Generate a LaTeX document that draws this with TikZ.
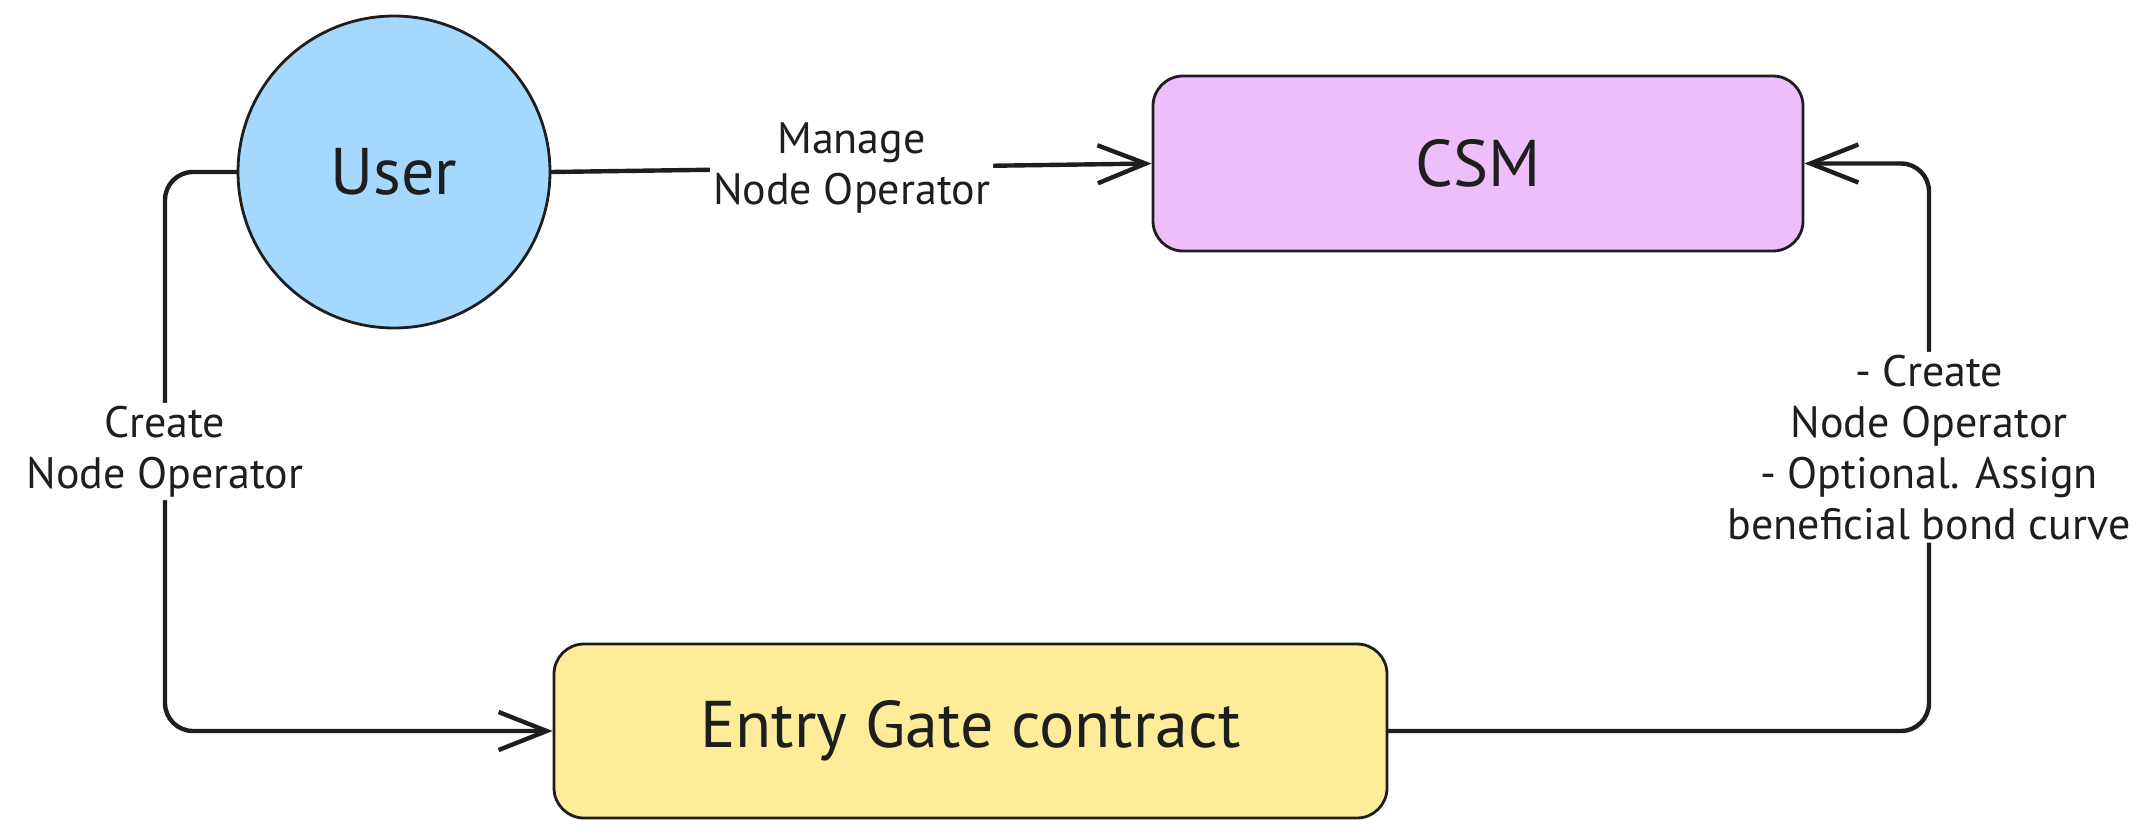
\documentclass[tikz,border=0pt]{standalone}
\usepackage{fontspec}
\setmainfont{PT Sans}
\usetikzlibrary{arrows.meta}
\definecolor{ink}{HTML}{1E1E1E}
\definecolor{userblue}{HTML}{A5D8FF}
\definecolor{csmpink}{HTML}{EEBEFA}
\definecolor{gateyellow}{HTML}{FFEC99}
\tikzset{
  shapebox/.style={draw=ink, line width=2.8pt, text=ink, font=\fontsize{66}{72}\selectfont},
  conn/.style={draw=ink, line width=4.4pt, line cap=round, line join=round, rounded corners=28pt},
  arr/.style={conn, -{Straight Barb[length=48pt,width=38pt]}},
  lbl/.style={fill=white, text=ink, inner sep=3pt, align=center, font=\fontsize{44}{51}\selectfont}
}
\begin{document}
\begin{tikzpicture}[x=1pt,y=-1pt]
\useasboundingbox (0,0) rectangle (2145,838);
\fill[white] (0,0) rectangle (2145,838);
% nodes
\node[shapebox, circle, fill=userblue, minimum size=312pt, inner sep=0pt] (user) at (394,172) {User};
\node[shapebox, rectangle, rounded corners=30pt, fill=csmpink, minimum width=650pt, minimum height=175pt] (csm) at (1478,163.5) {CSM};
\node[shapebox, rectangle, rounded corners=30pt, fill=gateyellow, minimum width=833pt, minimum height=174pt] (gate) at (970.5,731) {Entry Gate contract};
% helper coordinates
\coordinate (lc) at (165,172);
\coordinate (rc) at (1929,731);
% connectors
\draw[arr] (user.east) -- node[lbl] {Manage\\Node Operator} (csm.west);
\draw[arr] (user.west) -- (lc) -- node[lbl] {Create\\Node Operator} (lc |- gate.west) -- (gate.west);
\draw[arr] (gate.east) -- (rc) -- node[lbl] {- Create\\Node Operator\\- Optional. Assign\\beneficial bond curve} (rc |- csm.east) -- (csm.east);
\end{tikzpicture}
\end{document}
